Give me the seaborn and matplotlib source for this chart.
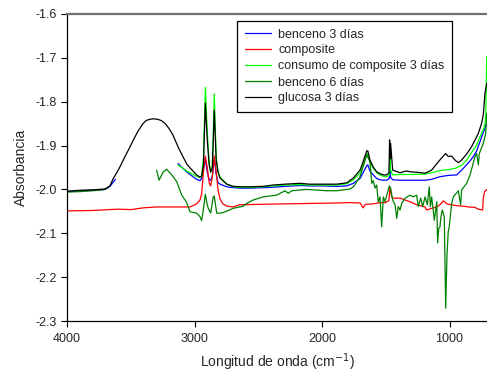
import numpy as np
import pandas as pd
import matplotlib
matplotlib.use("Agg")
import matplotlib.pyplot as plt
import seaborn as sns

# ---------------- data ----------------
# glucosa 3 días (black)
wn_glucosa = [4000, 3900, 3800, 3702, 3663, 3639, 3610, 3584, 3545, 3506, 3470, 3443, 3404, 3380,
              3350, 3320, 3290, 3260, 3230, 3200, 3169, 3129, 3098, 3061, 3035, 2983, 2957, 2944,
              2930, 2915, 2900, 2885, 2873, 2860, 2845, 2830, 2816, 2800, 2747, 2696, 2643, 2565,
              2460, 2384, 2290, 2173, 2100, 1992, 1885, 1806, 1754, 1702, 1678, 1649, 1641, 1624,
              1598, 1571, 1545, 1519, 1493, 1475, 1470, 1466, 1462, 1446, 1388, 1340, 1300, 1250,
              1192, 1140, 1088, 1049, 1030, 1010, 983, 957, 931, 905, 865, 826, 787, 774, 748,
              735, 722, 708]
abs_glucosa = [-2.004, -2.002, -2.001, -1.999, -1.992, -1.976, -1.962, -1.948, -1.925, -1.903,
               -1.882, -1.867, -1.850, -1.843, -1.840, -1.839, -1.840, -1.843, -1.850, -1.861,
               -1.876, -1.903, -1.921, -1.942, -1.951, -1.967, -1.972, -1.969, -1.944, -1.803,
               -1.887, -1.944, -1.960, -1.951, -1.819, -1.933, -1.960, -1.974, -1.988, -1.993,
               -1.994, -1.994, -1.993, -1.990, -1.988, -1.986, -1.988, -1.988, -1.988, -1.985,
               -1.974, -1.956, -1.937, -1.912, -1.912, -1.933, -1.949, -1.960, -1.964, -1.967,
               -1.967, -1.962, -1.887, -1.930, -1.895, -1.956, -1.962, -1.958, -1.960, -1.961,
               -1.963, -1.956, -1.937, -1.924, -1.918, -1.925, -1.924, -1.933, -1.939, -1.933,
               -1.919, -1.902, -1.880, -1.872, -1.849, -1.830, -1.781, -1.758]

# consumo de composite 3 días (lime)
wn_consumo = [3129, 3098, 3061, 3035, 2983, 2957, 2944, 2930, 2915, 2900, 2885, 2873, 2860, 2845,
              2830, 2816, 2800, 2747, 2696, 2643, 2565, 2460, 2384, 2290, 2173, 2100, 1992, 1885,
              1806, 1754, 1702, 1678, 1649, 1641, 1624, 1598, 1571, 1545, 1519, 1493, 1472, 1467,
              1462, 1446, 1388, 1300, 1192, 1140, 1088, 1049, 1010, 957, 905, 865, 826, 787, 761,
              735, 722, 716, 712, 708]
abs_consumo = [-1.945, -1.950, -1.958, -1.962, -1.970, -1.973, -1.970, -1.930, -1.767, -1.870,
               -1.940, -1.962, -1.945, -1.782, -1.925, -1.958, -1.972, -1.988, -1.994, -1.995,
               -1.995, -1.994, -1.992, -1.990, -1.989, -1.990, -1.990, -1.990, -1.987, -1.978,
               -1.962, -1.945, -1.920, -1.918, -1.938, -1.952, -1.962, -1.967, -1.970, -1.971,
               -1.968, -1.930, -1.955, -1.967, -1.966, -1.966, -1.965, -1.962, -1.958, -1.956,
               -1.955, -1.952, -1.945, -1.933, -1.915, -1.899, -1.880, -1.864, -1.850, -1.830,
               -1.760, -1.697]

# benceno 3 días (blue) – two segments
wn_benceno3_a = [4000, 3900, 3800, 3702, 3663, 3639, 3620]
abs_benceno3_a = [-2.005, -2.003, -2.002, -2.000, -1.993, -1.984, -1.977]
wn_benceno3_b = [3129, 3098, 3061, 3035, 2983, 2957, 2944, 2930, 2915, 2900, 2885, 2873, 2860,
                 2845, 2830, 2816, 2800, 2747, 2696, 2643, 2565, 2460, 2384, 2290, 2173, 2100,
                 1992, 1885, 1806, 1754, 1702, 1678, 1649, 1641, 1624, 1598, 1571, 1545, 1519,
                 1493, 1472, 1467, 1462, 1446, 1388, 1300, 1192, 1140, 1075, 1010, 944, 892,
                 839, 813, 787, 761, 735, 722, 708]
abs_benceno3_b = [-1.941, -1.950, -1.960, -1.966, -1.977, -1.980, -1.975, -1.955, -1.930, -1.960,
                  -1.978, -1.979, -1.970, -1.930, -1.965, -1.984, -1.988, -1.994, -1.996, -1.997,
                  -1.997, -1.996, -1.995, -1.993, -1.991, -1.992, -1.992, -1.993, -1.992, -1.986,
                  -1.975, -1.962, -1.946, -1.944, -1.958, -1.967, -1.975, -1.978, -1.979, -1.979,
                  -1.975, -1.952, -1.972, -1.978, -1.979, -1.979, -1.979, -1.977, -1.971, -1.968,
                  -1.967, -1.952, -1.935, -1.925, -1.912, -1.891, -1.870, -1.861, -1.849]

# composite (red)
wn_composite = [4000, 3800, 3600, 3500, 3400, 3300, 3200, 3100, 3035, 2983, 2957, 2944, 2930,
                2915, 2900, 2885, 2873, 2860, 2845, 2830, 2816, 2800, 2777, 2747, 2700, 2643,
                2500, 2300, 2100, 1900, 1780, 1700, 1678, 1660, 1600, 1545, 1500, 1475, 1467,
                1455, 1446, 1388, 1310, 1258, 1192, 1179, 1150, 1100, 1075, 1049, 1020, 983,
                944, 900, 850, 800, 774, 740, 735, 725, 712, 708]
abs_composite = [-2.049, -2.048, -2.045, -2.046, -2.042, -2.040, -2.040, -2.040, -2.040, -2.033,
                 -2.024, -2.010, -1.960, -1.924, -1.950, -1.985, -1.992, -1.970, -1.924, -1.960,
                 -2.000, -2.022, -2.033, -2.038, -2.040, -2.035, -2.034, -2.033, -2.032, -2.031,
                 -2.030, -2.031, -2.042, -2.034, -2.033, -2.030, -2.030, -2.025, -1.994, -2.015,
                 -2.020, -2.020, -2.028, -2.035, -2.040, -2.047, -2.044, -2.040, -2.035, -2.026,
                 -2.033, -2.035, -2.037, -2.038, -2.040, -2.041, -2.045, -2.047, -2.020, -2.005,
                 -2.002, -2.000]

# benceno 6 días (dark green) – two segments
wn_benceno6_a = [4000, 3900, 3800, 3720, 3680]
abs_benceno6_a = [-2.006, -2.005, -2.003, -2.001, -1.997]
wn_benceno6_b = [3297, 3278, 3245, 3218, 3170, 3140, 3100, 3061, 3035, 2983, 2957, 2944, 2930,
                 2915, 2900, 2892, 2873, 2853, 2845, 2826, 2800, 2777, 2696, 2643, 2617, 2591,
                 2539, 2460, 2355, 2290, 2264, 2238, 2120, 1963, 1885, 1780, 1754, 1702, 1649,
                 1624, 1610, 1598, 1584, 1571, 1559, 1545, 1532, 1519, 1506, 1488, 1472, 1462,
                 1446, 1427, 1414, 1402, 1388, 1375, 1349, 1310, 1284, 1258, 1245, 1226, 1210,
                 1192, 1174, 1159, 1150, 1140, 1119, 1100, 1093, 1085, 1075, 1067, 1057, 1049,
                 1041, 1030, 1020, 1010, 1002, 983, 970, 931, 913, 905, 865, 839, 800, 787, 774,
                 766, 735, 716, 708]
abs_benceno6_b = [-1.956, -1.979, -1.960, -1.954, -1.970, -1.982, -2.013, -2.030, -2.051, -2.054,
                  -2.062, -2.071, -2.045, -2.011, -2.035, -2.043, -2.054, -2.017, -2.015, -2.054,
                  -2.054, -2.053, -2.043, -2.040, -2.038, -2.032, -2.024, -2.017, -2.013, -2.003,
                  -2.009, -2.003, -2.000, -2.003, -2.003, -1.999, -1.994, -1.971, -1.921, -1.937,
                  -1.986, -1.980, -1.997, -1.990, -2.028, -2.017, -2.085, -2.017, -2.028, -2.009,
                  -1.992, -1.997, -2.024, -2.035, -2.066, -2.039, -2.047, -2.032, -2.020, -2.013,
                  -2.017, -2.013, -2.039, -2.020, -2.039, -2.017, -2.035, -1.994, -2.039, -2.017,
                  -2.070, -2.028, -2.122, -2.090, -2.085, -2.062, -2.047, -2.054, -2.062, -2.271,
                  -2.150, -2.096, -2.085, -2.032, -2.017, -2.003, -2.035, -2.001, -1.986, -1.967,
                  -1.925, -1.918, -1.944, -1.918, -1.895, -1.872, -1.826]

x_ticks = [4000, 3000, 2000, 1000]
y_ticks = [-2.3, -2.2, -2.1, -2.0, -1.9, -1.8, -1.7, -1.6]
y_tick_labels = ["-2.3", "-2.2", "-2.1", "-2.0", "-1.9", "-1.8", "-1.7", "-1.6"]

# ---------------- drawing ----------------
sns.set_style("ticks")
plt.rcParams['font.family'] = ['Liberation Sans', 'DejaVu Sans']
plt.rcParams['axes.unicode_minus'] = False

fig = plt.figure(figsize=(4.87, 3.74), dpi=100)
ax = fig.add_axes([67/487, 1 - 321/374, 1 - 67/487, (321 - 14)/374])

lw = 0.9
def draw(wn, ab, color, label=None):
    sns.lineplot(x=wn, y=ab, ax=ax, color=color, lw=lw, sort=False, estimator=None,
                 label=label, legend=False)

draw(wn_benceno3_a, abs_benceno3_a, "#0000ff")
draw(wn_benceno3_b, abs_benceno3_b, "#0000ff", "benceno 3 días")
draw(wn_composite, abs_composite, "#ff0000", "composite")
draw(wn_consumo, abs_consumo, "#00ff00", "consumo de composite 3 días")
draw(wn_benceno6_a, abs_benceno6_a, "#008000")
draw(wn_benceno6_b, abs_benceno6_b, "#008000", "benceno 6 días")
draw(wn_glucosa, abs_glucosa, "#000000", "glucosa 3 días")

ax.set_xlim(4000, 706)
ax.set_ylim(-2.3, -1.6)
ax.set_xticks(x_ticks)
ax.set_xticklabels([str(t) for t in x_ticks])
ax.set_yticks(y_ticks)
ax.set_yticklabels(y_tick_labels)
ax.tick_params(axis='both', labelsize=9, length=4, width=0.8, color='black', direction='out')
ax.tick_params(axis='x', pad=5)

ax.set_xlabel("Longitud de onda (cm$^{-1}$)", fontsize=10, labelpad=4)
ax.set_ylabel("Absorbancia", fontsize=10, labelpad=5)

for s in ['left', 'bottom']:
    ax.spines[s].set_color('black')
    ax.spines[s].set_linewidth(0.9)
ax.spines['top'].set_visible(True)
ax.spines['top'].set_color('#707070')
ax.spines['top'].set_linewidth(1.6)
ax.spines['right'].set_visible(False)

handles, labels = ax.get_legend_handles_labels()
leg = fig.legend(handles, labels, loc='upper left', bbox_to_anchor=(237/487, 1 - 21/374),
                 fontsize=9, frameon=True, fancybox=False, framealpha=1, edgecolor='black',
                 handlelength=2.1, handletextpad=0.6, labelspacing=0.32, borderpad=0.6,
                 borderaxespad=0)
leg.get_frame().set_linewidth(0.9)

fig.savefig("out.png", dpi=100)
